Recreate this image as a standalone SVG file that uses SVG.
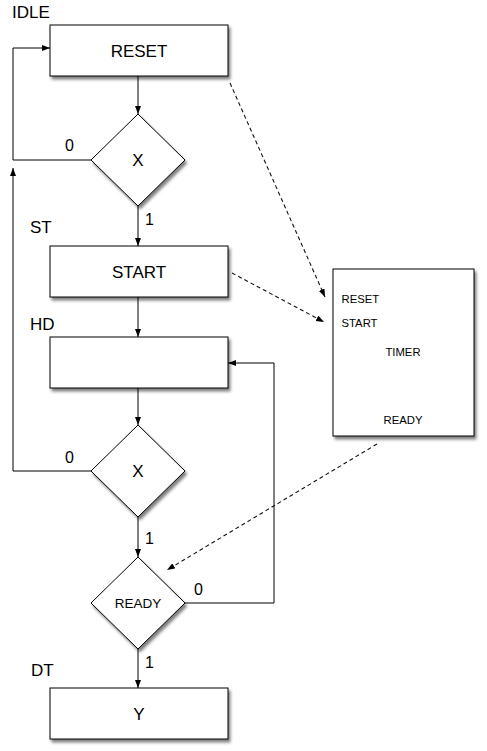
<svg xmlns="http://www.w3.org/2000/svg" width="487" height="751" viewBox="0 0 487 751">
<style>
text{font-family:"Liberation Sans",Arial,sans-serif;fill:#000}
.box{fill:#fff;stroke:#000;stroke-width:1;filter:url(#sh)}
.lbl{font-size:17px}
.big{font-size:17px;text-anchor:middle}
.num{font-size:16px}
.small{font-size:11.3px}
.ln{fill:none;stroke:#000;stroke-width:1}
.dash{fill:none;stroke:#111;stroke-width:1.1;stroke-dasharray:4,3}
</style>
<defs>
<filter id="sh" x="-10%" y="-10%" width="130%" height="130%">
<feDropShadow dx="2" dy="3" stdDeviation="1.8" flood-color="#000" flood-opacity="0.5"/>
</filter>
<marker id="ah" markerWidth="9" markerHeight="7" refX="8" refY="3" orient="auto" markerUnits="userSpaceOnUse">
<path d="M0,0 L8,3 L0,6 z" fill="#000"/>
</marker>
</defs>
<g id="connectors">
<path class="ln" d="M138,76 L138,114" marker-end="url(#ah)"/>
<path class="ln" d="M138,206 L138,246" marker-end="url(#ah)"/>
<path class="ln" d="M91,160 L13,160 L13,48 L50,48" marker-end="url(#ah)"/>
<path class="ln" d="M138,297 L138,337" marker-end="url(#ah)"/>
<path class="ln" d="M138,388 L138,425" marker-end="url(#ah)"/>
<path class="ln" d="M91,471 L13,471 L13,168" marker-end="url(#ah)"/>
<path class="ln" d="M138,517 L138,557" marker-end="url(#ah)"/>
<path class="ln" d="M185,603 L274,603 L274,363 L228,363" marker-end="url(#ah)"/>
<path class="ln" d="M138,649 L138,688" marker-end="url(#ah)"/>
<path class="dash" d="M230,83 L325,297" marker-end="url(#ah)"/>
<path class="dash" d="M232,273 L324,322" marker-end="url(#ah)"/>
<path class="dash" d="M377,444 L167,570" marker-end="url(#ah)"/>
<text class="num" x="65" y="151">0</text>
<text class="num" x="145" y="225">1</text>
<text class="num" x="65" y="463">0</text>
<text class="num" x="145" y="544">1</text>
<text class="num" x="194" y="595">0</text>
<text class="num" x="145" y="668">1</text>
</g>
<g id="reset">
<rect class="box" x="50" y="25" width="178" height="51"/>
<text class="lbl" x="12" y="18">IDLE</text>
<text class="big" x="139" y="57">RESET</text>
</g>
<g id="x1">
<polygon class="box" points="138,114 185,160 138,206 91,160"/>
<text class="big" x="138" y="166">X</text>
</g>
<g id="start">
<rect class="box" x="50" y="246" width="178" height="51"/>
<text class="lbl" x="30" y="233">ST</text>
<text class="big" x="139" y="278">START</text>
</g>
<g id="hd">
<rect class="box" x="50" y="337" width="178" height="51"/>
<text class="lbl" x="30" y="330">HD</text>
</g>
<g id="x2">
<polygon class="box" points="138,425 185,471 138,517 91,471"/>
<text class="big" x="138" y="477">X</text>
</g>
<g id="ready">
<polygon class="box" points="138,557 185,603 138,649 91,603"/>
<text x="138" y="608" style="font-size:13.5px;text-anchor:middle">READY</text>
</g>
<g id="y">
<rect class="box" x="50" y="688" width="178" height="51"/>
<text class="lbl" x="31" y="676">DT</text>
<text class="big" x="139" y="720">Y</text>
</g>
<g id="timer">
<rect class="box" x="333" y="269" width="141" height="167"/>
<text class="small" x="341.5" y="303">RESET</text>
<text class="small" x="341.5" y="327">START</text>
<text class="small" x="403" y="356" text-anchor="middle">TIMER</text>
<text class="small" x="403" y="424" text-anchor="middle">READY</text>
</g>
</svg>
